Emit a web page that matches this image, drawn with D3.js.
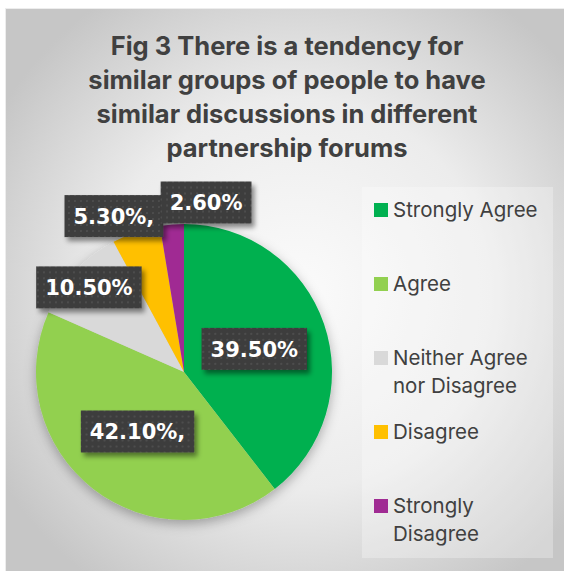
<!DOCTYPE html>
<html>
<head>
<meta charset="utf-8">
<script src="https://cdn.jsdelivr.net/npm/d3@7"></script>
<style>
  html, body { margin: 0; padding: 0; background: #fff; }
  svg { display: block; }
</style>
</head>
<body>
<div id="chart"></div>
<script>
// DATA //
var titleLines = [
  "Fig 3 There is a tendency for",
  "similar groups of people to have",
  "similar discussions in different",
  "partnership forums"
];
var categories = ["Strongly Agree", "Agree", "Neither Agree nor Disagree", "Disagree", "Strongly Disagree"];
var legendLines = [["Strongly Agree"], ["Agree"], ["Neither Agree", "nor Disagree"], ["Disagree"], ["Strongly", "Disagree"]];
var values = [39.5, 42.1, 10.5, 5.3, 2.6];
var colors = ["#00B050", "#92D050", "#D9D9D9", "#FFC000", "#A02B93"];
var labelSuffix = ["", ",", "", ",", ""];

// label placement: [fraction of radius, angle nudge in degrees]
var labelPlace = [[0.5, 0.7], [0.51, 0], [0.86, -1], [1.155, -5.3], [1.155, 12.1]];

var w = 564, h = 571;
var cx = 184, cy = 372, rad = 148;

var svg = d3.select("#chart").append("svg")
            .attr("width", w)
            .attr("height", h);

var defs = svg.append("defs");

var bg = defs.append("radialGradient")
             .attr("id", "bg")
             .attr("cx", "52%").attr("cy", "50%").attr("r", "62%");
bg.append("stop").attr("offset", "0%").attr("stop-color", "#fbfbfb");
bg.append("stop").attr("offset", "55%").attr("stop-color", "#ececec");
bg.append("stop").attr("offset", "100%").attr("stop-color", "#c6c6c6");

//dotted fill for the data label boxes
var pat = defs.append("pattern")
              .attr("id", "dots")
              .attr("width", 6).attr("height", 6)
              .attr("patternUnits", "userSpaceOnUse");
pat.append("rect").attr("width", 6).attr("height", 6).attr("fill", "#3d3d3d");
pat.append("rect").attr("x", 2).attr("y", 2).attr("width", 2).attr("height", 2).attr("fill", "#4d4d4d");

defs.append("filter").attr("id", "pieShadow")
    .attr("x", "-20%").attr("y", "-20%").attr("width", "140%").attr("height", "140%")
    .append("feDropShadow")
    .attr("dx", 0).attr("dy", 4).attr("stdDeviation", 6)
    .attr("flood-color", "#000").attr("flood-opacity", 0.3);

defs.append("filter").attr("id", "boxShadow")
    .attr("x", "-20%").attr("y", "-30%").attr("width", "150%").attr("height", "170%")
    .append("feDropShadow")
    .attr("dx", 3).attr("dy", 4).attr("stdDeviation", 2.5)
    .attr("flood-color", "#000").attr("flood-opacity", 0.45);

// chart area
svg.append("rect")
   .attr("x", 5.5).attr("y", 8.5)
   .attr("width", w).attr("height", h)
   .attr("fill", "url(#bg)")
   .attr("stroke", "#ededed");

// title
svg.append("g")
   .selectAll("text")
   .data(titleLines)
   .enter().append("text")
   .attr("x", 287)
   .attr("y", function(d, i){ return 55 + i*34; })
   .attr("text-anchor", "middle")
   .style("font-family", "Inter, 'Open Sans', sans-serif")
   .style("font-weight", 700)
   .style("font-size", "25.5px")
   .style("fill", "#404040")
   .text(function(d){ return d; });

// pie
var pie = d3.pie().sort(null).value(function(d){ return d; });
var arcs = pie(values);
var arc = d3.arc().innerRadius(0).outerRadius(rad);

var pieG = svg.append("g")
              .attr("transform", "translate(" + cx + "," + cy + ")");

pieG.append("g")
    .attr("filter", "url(#pieShadow)")
    .selectAll("path")
    .data(arcs)
    .enter().append("path")
    .attr("d", arc)
    .attr("fill", function(d, i){ return colors[i]; });

// data labels
var fmt = d3.format(".2f");
var labels = pieG.append("g")
                 .selectAll(".lbl")
                 .data(arcs)
                 .enter().append("g")
                 .attr("class", "lbl")
                 .attr("transform", function(d, i){
                   var a = (d.startAngle + d.endAngle)/2 + labelPlace[i][1]*Math.PI/180;
                   var r = rad*labelPlace[i][0];
                   return "translate(" + (r*Math.sin(a)) + "," + (-r*Math.cos(a)) + ")";
                 });

labels.each(function(d, i){
  var g = d3.select(this);
  var rect = g.append("rect").attr("fill", "url(#dots)").attr("filter", "url(#boxShadow)");
  var t = g.append("text")
           .attr("text-anchor", "middle")
           .attr("y", 8)
           .style("font-family", "'DejaVu Sans', Verdana, sans-serif")
           .style("font-weight", 700)
           .style("font-size", "21px")
           .style("fill", "#fff")
           .text(fmt(values[i]) + "%" + labelSuffix[i]);
  var tw = t.node().getComputedTextLength();
  rect.attr("x", -tw/2 - 9).attr("y", -21)
      .attr("width", tw + 18).attr("height", 42);
});

// legend
var ly = d3.scalePoint().domain(categories).range([217, 513]);

var legend = svg.append("g");
legend.append("rect")
      .attr("x", 362).attr("y", 187)
      .attr("width", 191).attr("height", 371)
      .attr("fill", "#fff").attr("fill-opacity", 0.28);

var items = legend.selectAll(".item")
                  .data(categories)
                  .enter().append("g")
                  .attr("class", "item")
                  .attr("transform", function(d){ return "translate(374," + ly(d) + ")"; });

items.append("rect")
     .attr("y", -14).attr("width", 14).attr("height", 14)
     .attr("fill", function(d, i){ return colors[i]; });

items.append("text")
     .attr("x", 19)
     .style("font-family", "Inter, 'Open Sans', sans-serif")
     .style("font-size", "20.5px")
     .style("fill", "#404040")
     .selectAll("tspan")
     .data(function(d, i){ return legendLines[i]; })
     .enter().append("tspan")
     .attr("x", 19)
     .attr("dy", function(d, j){ return j ? 28 : 0; })
     .text(function(d){ return d; });
</script>
</body>
</html>
